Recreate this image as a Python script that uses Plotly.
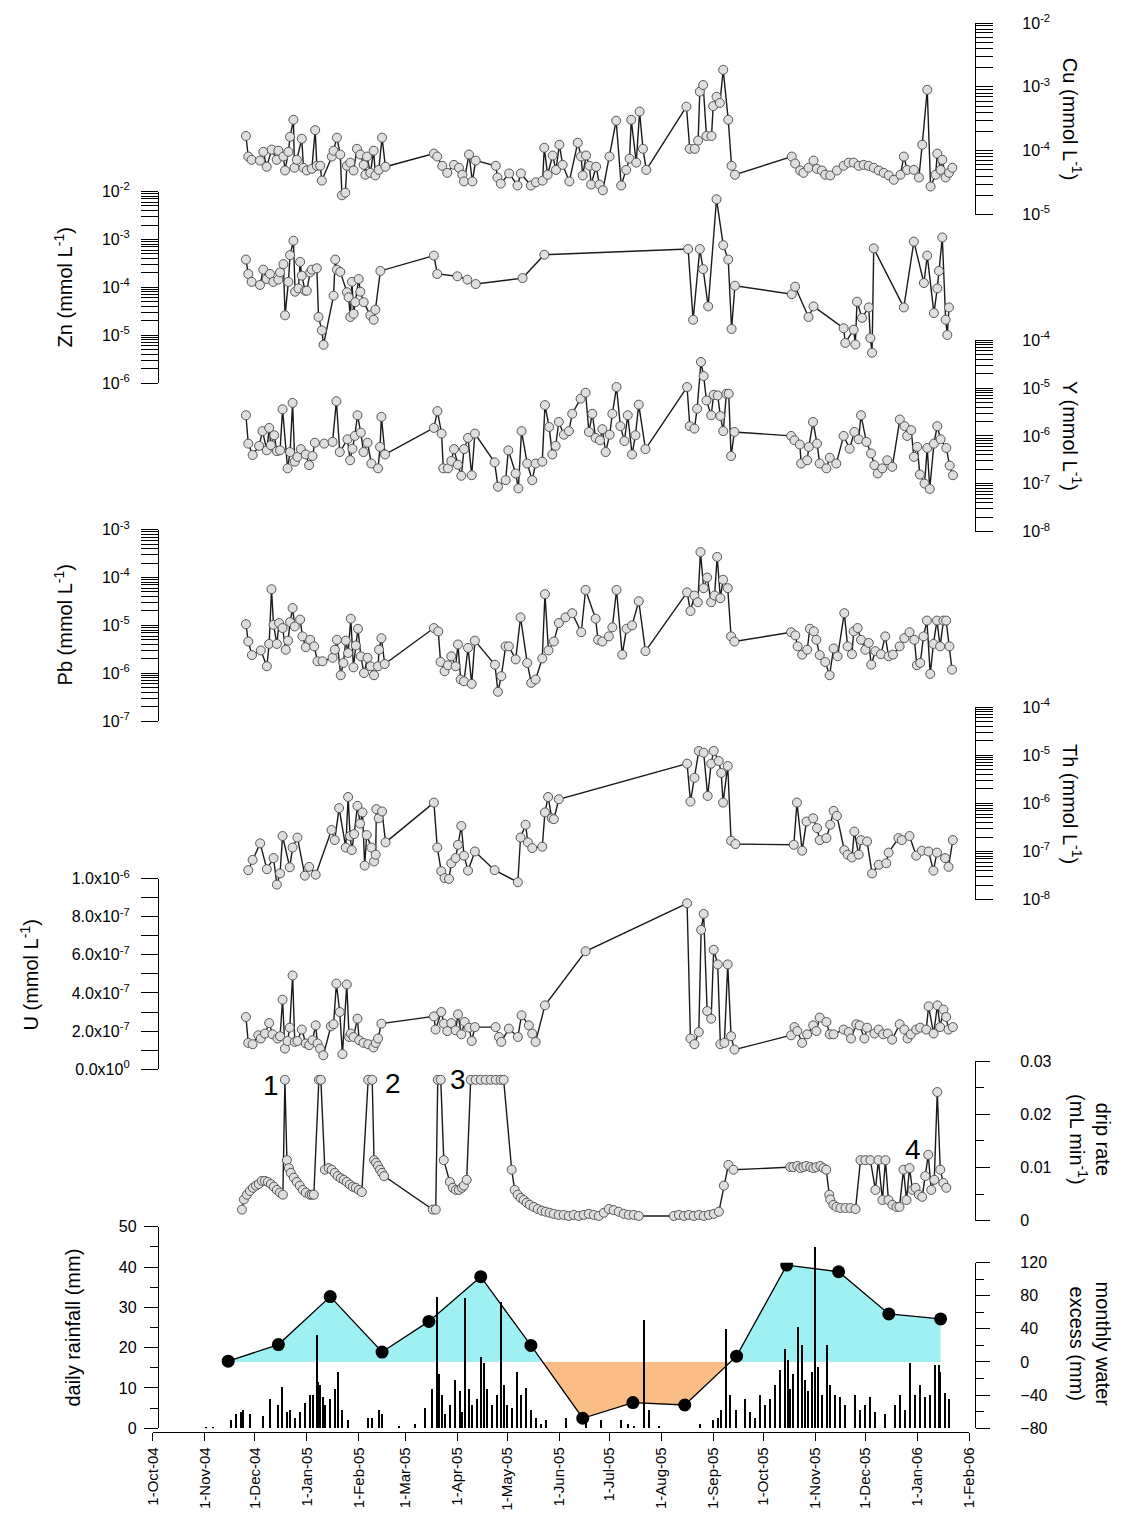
import numpy as np
import pandas as pd
import plotly.graph_objects as go

BASE = pd.Timestamp("2004-10-01")

# ---------------- data (day = days since 1-Oct-2004) ----------------
cu_day = [55.6,57,59,64,66,68,71,74,75,78,79,81,82,84,84.6,86,89,90,92,95,97,98,100,101,107,108,110,112,113,115,116,118,120,122,124,126,127,128,130,132,133,135,137,139,
          168,170,173,176,180,183,185,186,189,191,193,205,206,208,213,218,220,226,229,233,234,236,239,241,243,245,249,254,256,257,259,261,262,265,267,269,273,277,280,283,285,286,289,291,293,295,
          319,321,324,326,327,329,331,334,335,337,339,341,344,346,348,
          382,384,387,389,392,395,397,400,402,405,409,413,416,419,422,425,428,431,434,437,440,443,447,449,451,455,458,460,463,465,468,469,471,472,474,476,478]
cu_val = [1.7e-4,8.1e-5,7.2e-5,7.0e-5,9.6e-5,5.6e-5,1.04e-4,7.2e-5,1.0e-4,8.1e-5,4.9e-5,9.6e-5,1.65e-4,3.05e-4,5.4e-5,7.2e-5,1.54e-4,5.4e-5,4.9e-5,5.2e-5,2.1e-4,5.8e-5,5.8e-5,3.4e-5,8.1e-5,1.0e-4,1.6e-4,8.7e-5,2.0e-5,2.2e-5,5.8e-5,6.5e-5,4.9e-5,1.07e-4,8.7e-5,6.0e-5,4.2e-5,8.1e-5,4.5e-5,1.0e-4,4.1e-5,5.0e-5,1.6e-4,5.6e-5,
          9.0e-5,8.1e-5,5.8e-5,4.5e-5,6.0e-5,5.4e-5,4.2e-5,3.3e-5,8.7e-5,3.3e-5,7.0e-5,5.8e-5,3.8e-5,3.05e-5,4.4e-5,2.85e-5,4.4e-5,2.85e-5,3.2e-5,3.4e-5,1.11e-4,4.2e-5,8.4e-5,5.0e-5,1.24e-4,6.0e-5,3.3e-5,1.33e-4,8.1e-5,4.1e-5,8.4e-5,5.8e-5,2.95e-5,5.6e-5,2.95e-5,2.4e-5,8.1e-5,2.95e-4,2.85e-5,5.0e-5,7.5e-5,3.05e-4,6.5e-5,4.1e-4,1.07e-4,5.0e-5,
          4.9e-4,1.07e-4,1.07e-4,1.44e-4,8.4e-4,1.07e-3,1.7e-4,1.7e-4,5.0e-4,7.0e-4,5.6e-4,1.85e-3,3.05e-4,5.8e-5,4.2e-5,
          8.1e-5,6.3e-5,4.9e-5,4.5e-5,5.4e-5,7.0e-5,5.2e-5,4.9e-5,4.2e-5,4.1e-5,4.9e-5,5.8e-5,6.5e-5,6.5e-5,5.8e-5,6.0e-5,5.8e-5,5.4e-5,4.9e-5,4.5e-5,4.1e-5,3.5e-5,4.2e-5,8.1e-5,5.0e-5,5.0e-5,3.8e-5,1.24e-4,9.0e-4,2.75e-5,4.2e-5,9.0e-5,5.0e-5,7.2e-5,3.8e-5,4.5e-5,5.4e-5]

zn_day = [55.6,57,59,64,66,68,70,72,75,76,78,79,81,82,84,85,87,88,89,91,92,94,95,98,99,101,102,108,109,110,112,116,117,118,119,120,121,123,124,126,130,132,133,136,
          168,170,182,188,193,221,234,320,323,327,329,332,337,341,344,346,348,382,384,392,395,413,414,419,420,421,424,428,429,430,431,449,455,461,463,467,469,470,472,474,475,476]
zn_val = [3.8e-4,1.9e-4,1.3e-4,1.12e-4,2.34e-4,1.49e-4,1.9e-4,1.3e-4,1.45e-4,2.05e-4,3.05e-4,2.6e-5,1.3e-4,4.7e-4,9.4e-4,8.1e-5,9.5e-5,3.4e-4,1.75e-4,8.5e-5,8.5e-5,2.05e-4,2.34e-4,2.5e-4,2.4e-5,1.26e-5,6.3e-6,6.7e-5,3.8e-4,2.34e-4,2.1e-4,7.9e-5,6.2e-5,2.4e-5,1.3e-4,2.8e-5,4.9e-5,1.49e-4,8.1e-5,4.9e-5,2.6e-5,2.1e-5,3.4e-5,2.2e-4,
          4.6e-4,1.9e-4,1.7e-4,1.45e-4,1.17e-4,1.56e-4,4.8e-4,6.3e-4,2.1e-5,6.3e-4,2.4e-4,4.0e-5,6.9e-3,7.6e-4,3.8e-4,1.35e-5,1.08e-4,7.2e-5,1.03e-4,2.4e-5,4.0e-5,1.4e-5,6.9e-6,1.3e-5,6.4e-6,5.0e-5,2.3e-5,3.8e-5,8.7e-6,4.3e-6,6.5e-4,3.8e-5,9.0e-4,1.23e-4,4.6e-4,2.9e-5,9.5e-5,2.2e-4,1.1e-3,2.1e-5,1.01e-5,3.8e-5]

y_day = [55.6,57,59.6,63.5,65.5,68.1,69.5,70.5,72.5,74.1,76,77.5,80.5,82,83.5,84.8,86.4,88.4,91.4,93.4,95.4,96.8,102.4,107.4,109.7,111.7,116.3,117.9,119.3,120.7,122.3,124.3,125.9,128.3,130.6,134.6,135.8,136.6,138.8,
         168,170.1,172.6,173.6,176.4,178.4,180,182.3,184.4,186,188.4,190.6,192.5,204.3,206.3,210.9,212.5,216.9,218.5,220.4,223.8,226.8,228.8,232.8,234.4,236.9,238.8,240.8,242.7,245.7,248.7,250.7,255.7,258.7,260.7,262.7,264.7,267.3,268.7,270.7,273.1,274.7,277.2,279.5,281.9,283.9,286.5,288.5,290.5,294.5,
         319.4,321,323.8,325.4,327.7,329.3,331,333.8,335.3,337.7,339.3,341,342.9,344.3,345.7,347.7,
         381.6,383.6,386.8,387.6,391.2,392.2,394.7,397.1,398.7,402.7,404.7,408.6,413,416.6,419.4,422,423.4,426.6,429.4,431.4,433.4,436.1,439.1,442.1,446.6,449.4,451,453.4,455,457,458.6,461.4,463,464.5,467,469,471,474.4,476.4,478.4]
y_val = [2.7e-6,6.9e-7,4.0e-7,6.2e-7,1.26e-6,5.0e-7,1.47e-6,6.4e-7,1.03e-6,4.8e-7,5.0e-7,3.6e-6,2.1e-7,4.6e-7,4.9e-6,2.9e-7,3.65e-7,5.3e-7,4.1e-7,2.45e-7,3.8e-7,7.2e-7,6.9e-7,7.5e-7,5.3e-6,4.6e-7,8.5e-7,3.1e-7,5.4e-7,1.0e-6,2.7e-6,1.17e-6,4.6e-7,7.2e-7,2.65e-7,2.1e-7,5.9e-7,2.5e-6,4.1e-7,
         1.47e-6,3.3e-6,1.12e-6,2.1e-7,2.1e-7,3.0e-7,5.3e-7,2.5e-7,1.47e-7,5.3e-7,9.1e-7,1.51e-7,1.12e-6,2.8e-7,8.7e-8,1.19e-7,5.0e-7,1.64e-7,8.0e-8,1.26e-6,2.65e-7,1.19e-7,2.65e-7,2.9e-7,4.4e-6,1.54e-6,4.1e-7,6.2e-7,1.96e-6,1.06e-6,1.26e-6,2.9e-6,6.0e-6,8.0e-6,1.21e-6,2.9e-6,9.1e-7,8.1e-7,1.38e-6,4.6e-7,1.06e-6,2.9e-6,1.05e-5,1.6e-6,7.8e-7,2.7e-6,4.1e-7,1.03e-6,4.5e-6,5.3e-7,
         1.05e-5,1.6e-6,1.42e-6,3.7e-6,3.5e-5,1.78e-5,5.5e-6,2.7e-6,7.2e-6,7.0e-6,2.6e-6,1.26e-6,7.6e-6,7.6e-6,3.8e-7,1.21e-6,
         1.0e-6,8.1e-7,6.6e-7,2.65e-7,3.1e-7,5.9e-7,1.96e-6,6.9e-7,2.65e-7,2.1e-7,3.5e-7,2.65e-7,1.0e-6,5.4e-7,1.21e-6,8.5e-7,2.7e-6,7.5e-7,4.3e-7,2.45e-7,1.64e-7,2.1e-7,3.1e-7,2.26e-7,2.2e-6,1.6e-6,1.0e-6,1.32e-6,3.65e-7,5.9e-7,1.56e-7,1.01e-7,5.6e-7,7.8e-8,6.9e-7,1.6e-6,8.5e-7,5.6e-7,2.4e-7,1.51e-7]

pb_day = [55.6,57,59.2,64.5,68.1,69.5,70.9,72.1,74.1,75.4,77.5,79.4,80.8,82,83.5,84.8,88,89.4,91.4,94,96.4,98.4,101.4,107.4,108.8,110,112.3,113.9,115.3,116.7,118.3,119.9,121.3,122.6,124.3,126.2,128.3,130.2,132.2,134.6,135.2,136.6,138.6,
          168,170.6,172,174.4,176.4,178.4,181,182.4,184,186,188.4,190.6,192.5,204.5,206.3,208.3,210.9,212.8,216.9,219.8,223.8,226.2,228.8,232.8,234.4,236.5,239.7,242.7,246.7,250.7,256.1,258.7,264.7,266.1,268.7,272.6,274.7,277.2,280.6,283.2,286.5,290.5,294.5,
          319.4,321.4,323.8,325.8,327.4,329.3,331.4,333.8,335.8,337.4,339.3,340.9,343.7,345.7,347.7,
          381.6,384.1,385.5,388.2,391.2,392.8,395.2,396.7,398.7,402,404.6,407,409.4,413.4,415.4,418,419,421.4,423.4,426,428,429.5,432,435.3,437.9,439.9,442.5,446.5,449.3,452.4,455.3,456.8,458.8,460.8,462.8,464.8,466.7,468.8,470.7,472.7,474.3,476.3,477.8]
pb_val = [1.06e-5,4.6e-6,2.4e-6,3.0e-6,1.4e-6,4.1e-6,5.7e-5,1.03e-5,4.1e-6,1.12e-5,8.8e-6,3.1e-6,4.8e-6,1.17e-5,2.3e-5,9.5e-6,1.32e-5,5.9e-6,3.5e-6,5.0e-6,3.65e-6,1.78e-6,1.78e-6,2.1e-6,3.1e-6,5.0e-6,9.1e-7,1.64e-6,4.8e-6,2.65e-6,1.38e-5,1.33e-6,3.8e-6,8.5e-6,2.26e-6,1.01e-6,2.1e-6,1.4e-6,9.1e-7,1.4e-6,3.1e-6,5.4e-6,1.56e-6,
          8.8e-6,7.5e-6,1.72e-6,1.1e-6,1.47e-6,2.26e-6,1.4e-6,4.0e-6,7.4e-7,6.8e-7,3.4e-6,6.0e-7,4.8e-6,1.51e-6,4.1e-7,8.7e-7,3.65e-6,3.65e-6,1.95e-6,1.47e-5,1.64e-6,6.3e-7,7.4e-7,2.04e-6,4.5e-5,3.0e-6,4.6e-6,1.12e-5,1.47e-5,1.8e-5,7.2e-6,5.5e-5,1.38e-5,5.0e-6,4.6e-6,5.9e-6,9.1e-6,5.5e-5,2.45e-6,8.5e-6,1.0e-5,3.2e-5,2.9e-6,
          4.9e-5,2.0e-5,4.2e-5,3.05e-5,3.4e-4,6.0e-5,1.0e-4,3.05e-5,4.2e-5,2.7e-4,3.7e-5,9.0e-5,6.0e-5,5.9e-6,4.6e-6,
          7.2e-6,6.2e-6,3.65e-6,2.45e-6,3.1e-6,8.5e-6,7.5e-6,5.0e-6,2.4e-6,1.72e-6,9.1e-7,3.3e-6,2.26e-6,1.8e-5,3.65e-6,2.5e-6,7.5e-6,8.8e-6,5.0e-6,3.1e-6,4.3e-6,1.51e-6,2.9e-6,2.5e-6,5.9e-6,2.26e-6,2.45e-6,3.65e-6,5.4e-6,7.2e-6,5.0e-6,1.47e-6,1.64e-6,5.9e-6,1.26e-5,9.7e-7,4.1e-6,1.26e-5,3.65e-6,1.26e-5,1.26e-5,3.65e-6,1.19e-6]

th_day = [57,59.6,64.1,68.1,72.1,74.1,76,77.5,81.8,83.5,86.4,90.8,93.4,97.3,106.8,108.7,111.3,115.3,116.7,117.9,118.9,120.3,122.3,123.9,125.3,126.6,127.8,130.6,132.2,133.2,133.6,135,137,139.1,
          168,170,172.4,174.4,177,178.4,181,182.4,184.4,186,188.4,192.5,204.3,218.2,219.8,222.8,224.2,226.8,232.8,234.4,236.3,238.5,239.7,242.7,
          319.4,321.4,323.8,326.4,329.3,331.7,333.8,335.3,338.3,339.8,340.9,343.7,345.7,348.3,
          383.2,385.1,388.2,390.8,394.8,397.1,398.7,402.7,405,407,409,413.4,415.4,418,419.4,422,423.4,427,430,434,438.5,439.9,445.8,447.8,452.4,456.4,459.8,463.8,466.7,468.8,473.7,475.7,478.3]
th_val = [4.1e-8,6.7e-8,1.48e-7,4.3e-8,7.3e-8,2.05e-8,3.5e-8,2.1e-7,4.7e-8,1.21e-7,1.95e-7,3.15e-8,4.8e-8,3.3e-8,2.8e-7,1.73e-7,8.0e-7,1.21e-7,1.36e-6,2.1e-7,1.07e-7,2.3e-7,8.9e-7,3.8e-7,6.5e-7,5.1e-8,2.2e-7,1.21e-7,6.2e-8,8.6e-8,7.6e-7,4.9e-7,6.8e-7,1.55e-7,
          1.04e-6,1.21e-7,3.9e-8,2.8e-8,2.7e-8,5.7e-8,7.3e-8,1.38e-7,3.4e-7,8.2e-8,4.0e-8,1.0e-7,4.1e-8,2.3e-8,1.95e-7,3.6e-7,1.55e-7,1.18e-7,1.26e-7,6.5e-7,1.36e-6,4.9e-7,4.7e-7,1.22e-6,
          6.7e-6,1.09e-6,3.4e-6,1.23e-5,1.13e-5,1.43e-6,6.7e-6,1.23e-5,7.6e-6,4.3e-6,1.04e-6,6.0e-6,1.67e-7,1.43e-7,
          1.38e-7,1.04e-6,1.04e-7,4.2e-7,4.9e-7,3.06e-7,1.73e-7,1.9e-7,3.6e-7,7.0e-7,5.5e-7,1.07e-7,8.6e-8,7.5e-8,2.6e-7,8.6e-8,1.73e-7,1.62e-7,3.5e-8,5.3e-8,5.7e-8,9.5e-8,1.9e-7,1.73e-7,2.1e-7,8.2e-8,1.04e-7,1.0e-7,4.0e-8,9.5e-8,7.3e-8,4.8e-8,1.73e-7]

u_day = [55.6,57,59.6,63,64.5,67,69.5,71.5,74.5,76,77.5,78.9,80.5,81.8,83.5,84.8,86.4,89,91.4,93.4,95.4,97.3,98.4,99.9,101.9,106.4,108,109.7,111.7,113.3,115.9,117.3,118.3,119.9,122.3,123.3,125.9,128.7,131.8,133.2,134.6,136.6,
         168,169,172.4,174,176,178.4,181,182.4,184.4,186.4,189,190.6,192.5,204.9,206.9,208.3,212.8,218.2,220.4,224.8,226.8,228.8,234.4,258.7,
         319.4,321.4,323.8,326.4,327.8,329.3,331.4,333.8,335.3,337.7,339.3,341.7,343.7,345.7,347.7,
         381.6,383.6,385.3,388.2,391.2,394.8,396.7,398.7,402.7,404.7,407,413,416,417.4,420.6,422.6,425.4,427,431.4,433.9,436.6,439.4,442,446.5,449.3,451.2,453.2,456.4,458.8,462.4,463.8,466.8,469.1,470.7,472.7,474.3,475.7,478.3]
u_val = [2.74e-7,1.38e-7,1.31e-7,1.78e-7,1.61e-7,1.87e-7,2.42e-7,1.83e-7,1.61e-7,1.73e-7,3.65e-7,1.08e-7,1.48e-7,2.18e-7,4.92e-7,1.43e-7,1.48e-7,2.08e-7,1.35e-7,1.26e-7,1.52e-7,2.3e-7,1.35e-7,1.08e-7,7.3e-8,2.25e-7,2.36e-7,4.49e-7,3.0e-7,7.9e-8,4.45e-7,1.69e-7,1.87e-7,1.69e-7,2.65e-7,1.52e-7,1.38e-7,1.31e-7,1.14e-7,1.38e-7,1.61e-7,2.39e-7,
         2.77e-7,2.08e-7,3.0e-7,2.39e-7,2.0e-7,2.42e-7,2.04e-7,2.88e-7,1.83e-7,2.48e-7,2.18e-7,1.48e-7,2.21e-7,2.21e-7,1.69e-7,1.43e-7,2.13e-7,1.69e-7,2.83e-7,2.3e-7,1.87e-7,1.43e-7,3.35e-7,6.19e-7,
         8.71e-7,1.61e-7,1.31e-7,1.95e-7,7.31e-7,8.15e-7,3.05e-7,2.65e-7,6.27e-7,5.5e-7,1.31e-7,1.38e-7,5.5e-7,1.73e-7,1.03e-7,
         1.78e-7,2.21e-7,2.0e-7,1.38e-7,1.83e-7,2.3e-7,2.0e-7,2.71e-7,2.48e-7,1.83e-7,1.83e-7,2.08e-7,1.95e-7,1.61e-7,2.36e-7,2.3e-7,1.61e-7,2.18e-7,1.87e-7,2.08e-7,1.83e-7,1.87e-7,1.55e-7,2.36e-7,2.08e-7,1.61e-7,1.83e-7,2.08e-7,2.18e-7,2.08e-7,3.3e-7,1.87e-7,3.35e-7,2.21e-7,3.13e-7,2.74e-7,2.08e-7,2.21e-7]

drip_day = [53.2,54.4,56.2,58,59.8,61.6,63.3,65.1,66.9,68.7,70.5,72.3,74.1,75.9,77.7,78.9,80.1,81.3,82.4,84.2,86,87.8,89.6,91.4,93.8,95,96.2,99.2,100.4,102.8,105.1,106.9,108.7,110.5,112.3,114.1,115.9,117.7,119.5,121.3,123.1,124.9,128.7,131.1,132.2,133.4,134.6,135.8,137,138.2,
             167.3,169.1,170.3,172.1,173.9,177.5,179.3,181.1,182.9,184.7,185.9,187.6,190,193,196,199,202,205,207.9,209.7,214.5,216.3,218.1,219.9,221.7,223.5,225.3,227.7,230.1,232.5,234.8,237.2,239.6,242.6,245.6,248.6,251.6,254.6,257.6,260.6,263.6,266.6,269.6,272.6,275.5,278.5,281.5,284.5,287.5,290.5,311.5,314.5,317.5,320.4,323.4,326.4,329.4,332.4,335.4,338.4,341.4,344.1,347.1,
             381.1,382.9,385.3,387.1,388.9,390.7,393.1,394.9,396.7,399.1,400.9,402.6,404.4,405,406.9,408.7,411.1,414.1,417.1,420.1,423.1,426,429,432,433.8,436.2,438,439.8,442.2,444.6,446.4,448.8,450.6,452.4,454.2,456,458,460,461.8,463.6,465.4,467.2,469,470.8,472.6,474.4,476.2]
drip_val = [0.0021,0.004,0.0049,0.0056,0.0062,0.0066,0.0069,0.0075,0.0075,0.0073,0.0069,0.0064,0.0058,0.0053,0.0049,0.0265,0.0114,0.0099,0.009,0.0081,0.0073,0.0066,0.0058,0.0053,0.0049,0.0049,0.0049,0.0265,0.0265,0.0096,0.0099,0.0096,0.009,0.0084,0.008,0.0077,0.0073,0.0068,0.0064,0.0062,0.0058,0.0054,0.0265,0.0265,0.0114,0.0109,0.0103,0.0096,0.009,0.0084,
             0.0021,0.0021,0.0265,0.0265,0.0114,0.0073,0.0062,0.0058,0.0058,0.0062,0.0066,0.0077,0.0265,0.0265,0.0265,0.0265,0.0265,0.0265,0.0265,0.0265,0.0096,0.0058,0.0049,0.0043,0.0039,0.0034,0.003,0.0026,0.0022,0.0019,0.0017,0.0015,0.0013,0.0011,0.0011,0.0009,0.0011,0.0009,0.0011,0.0013,0.0011,0.0009,0.0015,0.0022,0.002,0.0017,0.0013,0.0011,0.0011,0.0009,0.0009,0.0011,0.0009,0.0011,0.0009,0.0011,0.0009,0.0011,0.0013,0.0017,0.0066,0.0105,
             0.0096,0.0101,0.0101,0.0103,0.0099,0.0101,0.0103,0.0101,0.0099,0.0101,0.0103,0.0099,0.0096,0.0049,0.004,0.003,0.0026,0.0024,0.0024,0.0024,0.0022,0.0114,0.0114,0.0114,0.0058,0.0114,0.0039,0.0114,0.0039,0.003,0.0026,0.0026,0.0096,0.0039,0.0099,0.0058,0.0062,0.0049,0.0045,0.0084,0.0124,0.0058,0.0077,0.0242,0.0096,0.0071,0.0062]

rain_day = [32,36,47,50,53,54,58,66,70,75,77,80,82,85,88,91,94,96,98,99,100,102,103,106,109,111,113,117,129,131,135,137,147,157,163,167,170,171,173,175,178,181,184,185,187,189,191,194,196,198,200,203,206,208,210,212,215,218,220,223,226,229,232,235,247,259,268,280,284,288,294,297,303,327,335,338,340,343,345,349,354,357,360,363,366,369,372,375,378,380,381,383,386,388,390,392,394,396,398,400,403,405,408,411,414,420,423,426,429,432,438,444,447,450,453,456,459,462,465,468,470,471,474,476]
rain_mm = [0.3,0.3,2.2,3.5,4.2,4.7,3.5,3.0,7.2,5.9,10.4,4.2,4.7,2.7,4.2,6.2,8.4,8.4,23.3,11.6,10.9,7.7,5.9,7.2,9.7,14.1,4.7,2.2,2.7,2.7,4.7,3.7,0.7,1.2,5.2,9.7,32.7,13.4,8.4,3.5,5.9,12.1,9.2,4.2,32.4,9.7,5.9,7.2,17.8,16.3,9.7,5.9,8.4,31.4,10.9,5.9,5.2,14.1,8.4,10.1,4.7,2.7,1.2,2.2,2.7,1.7,2.2,2.2,1.2,0.7,27.0,4.7,0.7,1.2,2.2,2.7,4.7,24.8,8.4,4.7,7.2,4.2,2.7,8.4,5.9,7.2,10.9,14.6,19.6,17.1,9.7,13.4,25.2,20.8,12.1,9.2,14.1,45.0,15.3,8.4,20.8,10.9,8.4,7.7,5.9,8.4,4.7,5.9,7.7,4.2,3.5,5.9,8.4,4.7,16.3,8.4,10.9,7.7,8.4,15.8,15.8,14.1,8.9,7.2]

we_date = ["2004-11-15","2004-12-15","2005-01-15","2005-02-15","2005-03-15","2005-04-15","2005-05-15","2005-06-15",
           "2005-07-15","2005-08-15","2005-09-15","2005-10-15","2005-11-15","2005-12-15","2006-01-15"]
we_val = [1, 21, 79, 12, 49, 103, 20, -68, -49, -52, 7, 117, 109, 58, 52]

month_ticks = pd.date_range("2004-10-01", "2006-02-01", freq="MS")
month_text = [f"1-{d.strftime('%b')}-{d.strftime('%y')}" for d in month_ticks]

# ---------------- geometry helpers ----------------
# page = figure + 8 px body margin on each side; the captured picture is that page scaled to 1125x1535
W, H = 1125, 1535
OFF = 8
SX = (W + 2 * OFF) / W
SY = (H + 2 * OFF) / H
FONT = "Liberation Sans, Arial, sans-serif"


def px(xs):
    return (xs * SX - OFF) / W


def py(ys):
    return 1 - (ys * SY - OFF) / H


def to_dates(days):
    return BASE + pd.to_timedelta(np.asarray(days, dtype=float), unit="D")


def ydom(top_px, bottom_px):
    return [py(bottom_px), py(top_px)]


def sup_log(exps):
    return [f"10<sup>{e}</sup>" for e in exps]


def log_minor(lo, hi):
    vals = []
    for e in range(lo, hi):
        for k in range(2, 10):
            vals.append(k * 10.0 ** e)
    return vals


fig = go.Figure()

# water excess fill (split at zero crossings) -> axis 'y' (drawn first, below the bars)
wd = pd.to_datetime(we_date)
wx = (wd - BASE).days.values.astype(float)
wy = np.array(we_val, dtype=float)
fx, fy = [wx[0]], [wy[0]]
for i in range(1, len(wx)):
    if wy[i - 1] * wy[i] < 0:
        t = wy[i - 1] / (wy[i - 1] - wy[i])
        fx.append(wx[i - 1] + t * (wx[i] - wx[i - 1]))
        fy.append(0.0)
    fx.append(wx[i])
    fy.append(wy[i])
fx = np.array(fx)
fy = np.array(fy)
fig.add_trace(go.Scatter(x=to_dates(fx), y=np.maximum(fy, 0), mode="lines", line=dict(width=0),
                         fill="tozeroy", fillcolor="#9ef0f2", yaxis="y", hoverinfo="skip"))
fig.add_trace(go.Scatter(x=to_dates(fx), y=np.minimum(fy, 0), mode="lines", line=dict(width=0),
                         fill="tozeroy", fillcolor="#f9bd85", yaxis="y", hoverinfo="skip"))
fig.add_trace(go.Scatter(x=wd, y=we_val, mode="lines+markers", line=dict(color="black", width=1.3),
                         marker=dict(size=13, color="black"), yaxis="y"))

# daily rainfall bars -> axis 'y9' (drawn above the fill)
fig.add_trace(go.Bar(x=to_dates(rain_day), y=rain_mm, marker=dict(color="black", line=dict(width=0)),
                     width=86400000 * 0.9, yaxis="y9"))

series = [(cu_day, cu_val, "y2"), (zn_day, zn_val, "y3"), (y_day, y_val, "y4"), (pb_day, pb_val, "y5"),
          (th_day, th_val, "y6"), (u_day, u_val, "y7"), (drip_day, drip_val, "y8")]
for d, v, ax in series:
    fig.add_trace(go.Scatter(x=to_dates(d), y=v, mode="lines+markers",
                             line=dict(color="#1a1a1a", width=1.4),
                             marker=dict(size=9, color="#dedede", line=dict(color="#555555", width=1)),
                             yaxis=ax, cliponaxis=False))

LX = px(157)
RX = px(975)
tick_font = dict(family=FONT, size=16, color="black")

common = dict(showline=True, linecolor="black", linewidth=1.2, ticks="outside", tickcolor="black",
              tickwidth=1.2, showgrid=False, zeroline=False, anchor="free", tickfont=tick_font)


def log_axis(top, bottom, lo, hi, side):
    ax = dict(common)
    ax.update(domain=ydom(top, bottom), type="log", range=[lo, hi], side=side,
              position=RX if side == "right" else LX,
              tickvals=[10.0 ** e for e in range(lo, hi + 1)], ticktext=sup_log(range(lo, hi + 1)),
              ticklen=17, ticklabelstandoff=(26 if side == "right" else 8),
              minor=dict(tickvals=log_minor(lo, hi), ticks="outside", ticklen=17, tickcolor="black", tickwidth=1))
    return ax


u_vals = [0, 2e-7, 4e-7, 6e-7, 8e-7, 1e-6]
u_text = ["0.0x10<sup>0</sup>", "2.0x10<sup>-7</sup>", "4.0x10<sup>-7</sup>", "6.0x10<sup>-7</sup>",
          "8.0x10<sup>-7</sup>", "1.0x10<sup>-6</sup>"]

layout = dict(
    width=W, height=H, margin=dict(l=0, r=0, t=0, b=0), autosize=False,
    paper_bgcolor="white", plot_bgcolor="rgba(0,0,0,0)", showlegend=False, bargap=0,
    font=dict(family=FONT, color="black"),
    xaxis=dict(domain=[px(152), px(969)], type="date", range=[BASE, pd.Timestamp("2006-02-01")],
               anchor="free", position=py(1433), showline=True, linecolor="black", linewidth=1.2,
               ticks="outside", ticklen=8, tickcolor="black", tickwidth=1.2, tickvals=month_ticks,
               ticktext=month_text, tickangle=-90, tickfont=dict(family=FONT, size=15), showgrid=False,
               zeroline=False),
    yaxis=dict(common, domain=ydom(1263, 1429), range=[-80, 120], side="right", position=RX,
               tickvals=[-80, -40, 0, 40, 80, 120], ticklen=14, ticklabelstandoff=27,
               minor=dict(dtick=20, ticks="outside", ticklen=8, tickcolor="black")),
    yaxis2=log_axis(20, 212, -5, -2, "right"),
    yaxis3=log_axis(189, 381, -6, -2, "left"),
    yaxis4=log_axis(338, 530, -8, -4, "right"),
    yaxis5=log_axis(528, 720, -7, -3, "left"),
    yaxis6=log_axis(706, 899, -8, -4, "right"),
    yaxis7=dict(common, domain=ydom(878, 1069), range=[0, 1e-6], side="left", position=LX,
                tickvals=u_vals, ticktext=u_text, ticklen=17, ticklabelstandoff=8,
                minor=dict(dtick=1e-7, ticks="outside", ticklen=17, tickcolor="black")),
    yaxis8=dict(common, domain=ydom(1061, 1221), range=[0, 0.03], side="right", position=RX,
                tickvals=[0, 0.01, 0.02, 0.03], ticktext=["0", "0.01", "0.02", "0.03"], ticklen=14,
                ticklabelstandoff=27,
                minor=dict(dtick=0.005, ticks="outside", ticklen=8, tickcolor="black")),
    yaxis9=dict(common, domain=ydom(1227, 1429), range=[0, 50], side="left", position=LX,
                tickvals=[0, 10, 20, 30, 40, 50], ticklen=14, ticklabelstandoff=4,
                minor=dict(dtick=5, ticks="outside", ticklen=8, tickcolor="black")),
)
fig.update_layout(**layout)


def title(text, xs, ys, angle):
    fig.add_annotation(text=text, x=px(xs), y=py(ys), xref="paper", yref="paper", showarrow=False,
                       textangle=angle, font=dict(family=FONT, size=20, color="black"),
                       xanchor="center", yanchor="middle")


title("Cu (mmol L<sup>-1</sup>)", 1072, 116, 90)
title("Zn (mmol L<sup>-1</sup>)", 62, 285, -90)
title("Y (mmol L<sup>-1</sup>)", 1072, 434, 90)
title("Pb (mmol L<sup>-1</sup>)", 62, 624, -90)
title("Th (mmol L<sup>-1</sup>)", 1072, 803, 90)
title("U (mmol L<sup>-1</sup>)", 28, 975, -90)
title("drip rate<br>(mL min<sup>-1</sup>)", 1090, 1140, 90)
title("daily rainfall (mm)", 72, 1328, -90)
title("monthly water<br>excess (mm)", 1090, 1345, 90)

for lab, xs, ys in [("1", 270, 1085), ("2", 392, 1083), ("3", 457, 1079), ("4", 913, 1150)]:
    fig.add_annotation(text=lab, x=px(xs), y=py(ys), xref="paper", yref="paper", showarrow=False,
                       font=dict(family=FONT, size=28, color="black"), xanchor="center", yanchor="middle")

fig.write_html("out.html")
